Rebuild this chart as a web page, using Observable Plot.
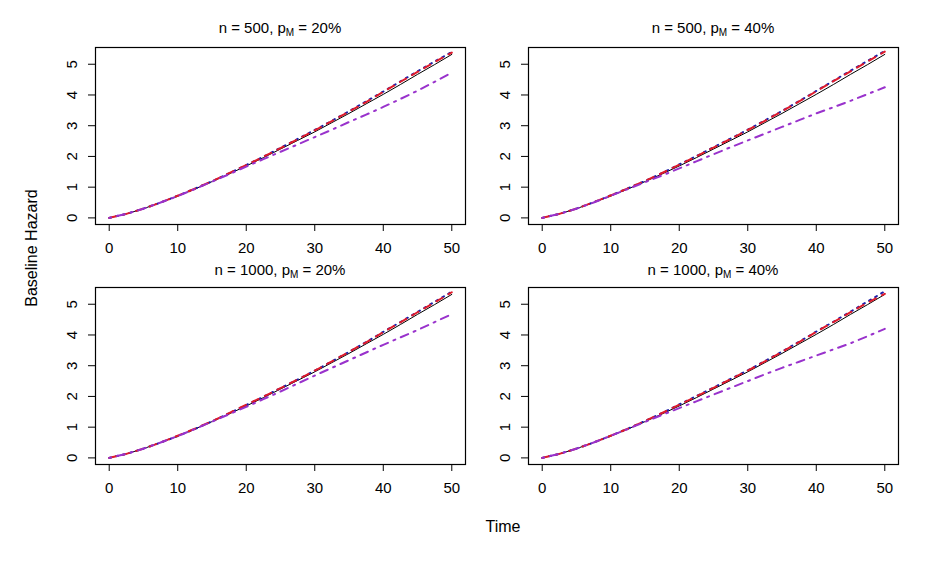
<!DOCTYPE html>
<html>
<head>
<meta charset="utf-8">
<script src="https://cdn.jsdelivr.net/npm/d3@7"></script>
<script src="https://cdn.jsdelivr.net/npm/@observablehq/plot@0.6"></script>
<style>
  html, body { margin: 0; padding: 0; background: #fff; }
  #root { position: relative; width: 946px; height: 576px; background: #fff; font-family: "Liberation Sans", Arial, sans-serif; color: #000; }
  .panel { position: absolute; }
  .title { position: absolute; text-align: center; font-size: 15px; line-height: 18px; white-space: nowrap; }
  .title sub { font-size: 10px; vertical-align: -3px; line-height: 0; }
  .lab { position: absolute; font-size: 16px; line-height: 18px; white-space: nowrap; }
</style>
</head>
<body>
<div id="root"></div>
<script>
// ---- data ----
const times = [0, 2.5, 5, 7.5, 10, 12.5, 15, 17.5, 20, 22.5, 25, 27.5, 30, 32.5, 35, 37.5, 40, 42.5, 45, 47.5, 50];
const trueHazard = [0, 0.13, 0.30, 0.50, 0.71, 0.94, 1.18, 1.43, 1.69, 1.96, 2.24, 2.52, 2.80, 3.10, 3.40, 3.71, 4.02, 4.34, 4.67, 4.99, 5.32];

const blue_n500_p20   = [0, 0.13, 0.30, 0.50, 0.72, 0.95, 1.19, 1.45, 1.72, 1.99, 2.28, 2.57, 2.86, 3.16, 3.47, 3.79, 4.11, 4.44, 4.77, 5.09, 5.40];
const red_n500_p20    = [0, 0.13, 0.30, 0.50, 0.72, 0.95, 1.19, 1.46, 1.72, 1.99, 2.27, 2.56, 2.85, 3.15, 3.46, 3.77, 4.10, 4.43, 4.75, 5.07, 5.38];
const purple_n500_p20 = [0, 0.13, 0.30, 0.50, 0.71, 0.94, 1.18, 1.42, 1.67, 1.91, 2.15, 2.39, 2.63, 2.87, 3.12, 3.36, 3.61, 3.87, 4.14, 4.43, 4.73];

const blue_n500_p40   = [0, 0.13, 0.30, 0.51, 0.73, 0.96, 1.20, 1.46, 1.74, 2.01, 2.30, 2.58, 2.87, 3.17, 3.48, 3.80, 4.13, 4.46, 4.79, 5.11, 5.43];
const red_n500_p40    = [0, 0.13, 0.30, 0.51, 0.73, 0.96, 1.20, 1.46, 1.73, 2.00, 2.29, 2.57, 2.86, 3.16, 3.47, 3.79, 4.12, 4.45, 4.77, 5.09, 5.41];
const purple_n500_p40 = [0, 0.13, 0.30, 0.50, 0.72, 0.94, 1.16, 1.38, 1.61, 1.84, 2.07, 2.30, 2.52, 2.74, 2.96, 3.18, 3.40, 3.60, 3.81, 4.03, 4.25];

const blue_n1000_p20   = [0, 0.13, 0.30, 0.50, 0.71, 0.94, 1.19, 1.45, 1.72, 1.99, 2.27, 2.55, 2.84, 3.14, 3.45, 3.77, 4.10, 4.42, 4.75, 5.08, 5.41];
const red_n1000_p20    = [0, 0.13, 0.30, 0.50, 0.72, 0.95, 1.19, 1.46, 1.73, 1.99, 2.27, 2.55, 2.84, 3.14, 3.45, 3.76, 4.09, 4.41, 4.74, 5.06, 5.39];
const purple_n1000_p20 = [0, 0.13, 0.30, 0.50, 0.71, 0.94, 1.18, 1.42, 1.66, 1.91, 2.16, 2.42, 2.68, 2.93, 3.18, 3.43, 3.68, 3.92, 4.16, 4.42, 4.68];

const blue_n1000_p40   = [0, 0.13, 0.30, 0.50, 0.72, 0.95, 1.20, 1.46, 1.74, 2.01, 2.29, 2.57, 2.85, 3.15, 3.46, 3.78, 4.11, 4.43, 4.76, 5.09, 5.42];
const red_n1000_p40    = [0, 0.13, 0.30, 0.50, 0.72, 0.95, 1.20, 1.46, 1.73, 2.00, 2.28, 2.56, 2.84, 3.14, 3.45, 3.77, 4.10, 4.42, 4.74, 5.05, 5.34];
const purple_n1000_p40 = [0, 0.13, 0.30, 0.50, 0.72, 0.94, 1.17, 1.40, 1.62, 1.84, 2.06, 2.28, 2.50, 2.72, 2.93, 3.13, 3.33, 3.53, 3.73, 3.96, 4.20];

const xTicks = [0, 10, 20, 30, 40, 50];
const yTicks = [0, 1, 2, 3, 4, 5];

const panelInfo = [
  { n: "500",  p: "20%", blue: blue_n500_p20,  red: red_n500_p20,  purple: purple_n500_p20 },
  { n: "500",  p: "40%", blue: blue_n500_p40,  red: red_n500_p40,  purple: purple_n500_p40 },
  { n: "1000", p: "20%", blue: blue_n1000_p20, red: red_n1000_p20, purple: purple_n1000_p20 },
  { n: "1000", p: "40%", blue: blue_n1000_p40, red: red_n1000_p40, purple: purple_n1000_p40 }
];

// ---- layout ----
const frames = [
  { left: 95,  top: 47,  titleY: 19 },
  { left: 528, top: 47,  titleY: 19 },
  { left: 95,  top: 287, titleY: 261 },
  { left: 528, top: 287, titleY: 261 }
];
const FW = 370, FH = 177;
const ML = 60, MR = 10, MT = 10, MB = 40;

const root = document.getElementById("root");
const toRows = (vals) => times.map((t, i) => ({ t, v: vals[i] }));

panelInfo.forEach((p, i) => {
  const f = frames[i];
  const chart = Plot.plot({
    width: FW + ML + MR,
    height: FH + MT + MB,
    marginLeft: ML, marginRight: MR, marginTop: MT, marginBottom: MB,
    style: { fontFamily: "'Liberation Sans', Arial, sans-serif", fontSize: "15px", color: "#000", background: "transparent", overflow: "visible" },
    x: { domain: [-2, 52] },
    y: { domain: [-0.215, 5.545] },
    marks: [
      Plot.line(toRows(trueHazard), { x: "t", y: "v", stroke: "#000", strokeWidth: 1 }),
      Plot.line(toRows(p.blue),   { x: "t", y: "v", stroke: "#1f1fa8", strokeWidth: 2, strokeDasharray: "2,5" }),
      Plot.line(toRows(p.red),    { x: "t", y: "v", stroke: "#e01b2b", strokeWidth: 2, strokeDasharray: "7,7" }),
      Plot.line(toRows(p.purple), { x: "t", y: "v", stroke: "#9932cc", strokeWidth: 2, strokeDasharray: "2,6,8,6" }),
      Plot.frame({ stroke: "#000", strokeWidth: 1.2 }),
      Plot.axisX({ ticks: xTicks, tickSize: 7, tickPadding: 11, label: null, fontSize: 15, stroke: "#000" }),
      Plot.axisY({ ticks: yTicks, tickSize: 7, tickFormat: () => "", label: null, stroke: "#000" }),
      Plot.text(yTicks, { y: d => d, text: d => String(d), frameAnchor: "left", dx: -23, rotate: -90, textAnchor: "middle", lineAnchor: "middle", fontSize: 15, fill: "#000" })
    ]
  });
  const wrap = document.createElement("div");
  wrap.className = "panel";
  wrap.style.left = (f.left - ML) + "px";
  wrap.style.top = (f.top - MT) + "px";
  wrap.appendChild(chart);
  root.appendChild(wrap);

  const title = document.createElement("div");
  title.className = "title";
  title.style.left = f.left + "px";
  title.style.width = FW + "px";
  title.style.top = f.titleY + "px";
  title.innerHTML = `n = ${p.n}, p<sub>M</sub> = ${p.p}`;
  root.appendChild(title);
});

const xl = document.createElement("div");
xl.className = "lab";
xl.textContent = "Time";
xl.style.left = "503px";
xl.style.top = "518px";
xl.style.transform = "translateX(-50%)";
root.appendChild(xl);

const yl = document.createElement("div");
yl.className = "lab";
yl.textContent = "Baseline Hazard";
yl.style.left = "32px";
yl.style.top = "248px";
yl.style.transform = "translate(-50%, -50%) rotate(-90deg)";
root.appendChild(yl);
</script>
</body>
</html>
